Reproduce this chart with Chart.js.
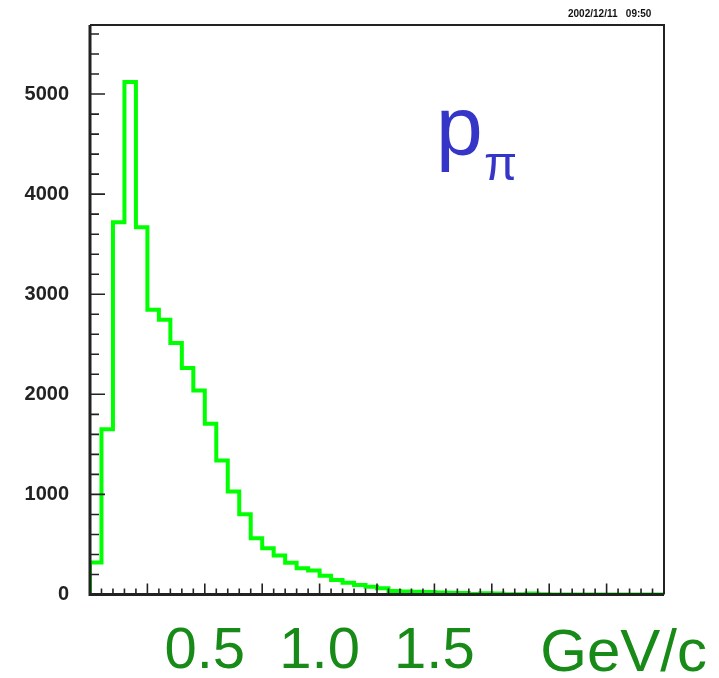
<!DOCTYPE html>
<html>
<head>
<meta charset="utf-8">
<script src="https://cdn.jsdelivr.net/npm/chart.js@4"></script>
<style>
  html, body { margin: 0; padding: 0; background: #fff; }
  #wrap { width: 719px; height: 678px; }
</style>
</head>
<body>
<div id="wrap"><canvas id="c" width="719" height="678"></canvas></div>
<script>
// histogram of pion momentum, 50 bins of 0.05 GeV/c
var xMin = 0;
var xMax = 2.5;
var binWidth = 0.05;
var counts = [320, 1650, 3720, 5120, 3670, 2845, 2745, 2512, 2262, 2038,
              1705, 1338, 1028, 802, 562, 462, 390, 318, 262, 240,
              188, 145, 118, 95, 78, 62, 35, 30, 28, 25,
              20, 18, 15, 5, 12, 10, 3, 2, 10, 2,
              0, 0, 0, 0, 0, 0, 0, 0, 0, 0];
var yMax = 5690;
var yTickLabels = ['0', '1000', '2000', '3000', '4000', '5000'];
var xTickLabels = ['0.5', '1.0', '1.5'];
var xUnit = 'GeV/c';
var dateStamp = '2002/12/11   09:50';

// outline points: start from zero at the first edge, one point per bin left edge, close at the end
var points = [{x: xMin, y: 0}];
counts.forEach(function(c, i) {
    points.push({x: xMin + i * binWidth, y: c});
});
points.push({x: xMax, y: 0});

var frameAndTicks = {
    id: 'frameAndTicks',
    afterDatasetsDraw: function(chart) {
        var ctx = chart.ctx;
        var a = chart.chartArea;
        var xs = chart.scales.x, ys = chart.scales.y;
        ctx.save();
        ctx.strokeStyle = '#222';
        ctx.lineWidth = 1.6;
        ctx.beginPath();
        // x divisions: minor every 0.05, major every 0.25
        for (var i = 1; i < 50; i++) {
            var px = xs.getPixelForValue(i * 0.05);
            var len = (i % 5 === 0) ? 11 : 6;
            ctx.moveTo(px, a.bottom);
            ctx.lineTo(px, a.bottom - len);
        }
        // y divisions: minor every 200, major every 1000
        for (var j = 1; j * 200 < yMax; j++) {
            var py = ys.getPixelForValue(j * 200);
            var l = (j % 5 === 0) ? 15 : 9;
            ctx.moveTo(a.left, py);
            ctx.lineTo(a.left + l, py);
        }
        ctx.stroke();

        // frame
        ctx.lineWidth = 3;
        ctx.beginPath();
        ctx.moveTo(a.left, a.top);
        ctx.lineTo(a.left, a.bottom);
        ctx.lineTo(a.right, a.bottom);
        ctx.stroke();
        ctx.lineWidth = 2;
        ctx.beginPath();
        ctx.moveTo(a.left, a.top);
        ctx.lineTo(a.right, a.top);
        ctx.lineTo(a.right, a.bottom);
        ctx.stroke();
        ctx.restore();
    },
    afterDraw: function(chart) {
        var ctx = chart.ctx;
        ctx.save();
        // title p_pi
        ctx.fillStyle = '#3535c8';
        ctx.textBaseline = 'alphabetic';
        ctx.textAlign = 'left';
        ctx.font = '84px "Liberation Sans", Arial, sans-serif';
        ctx.fillText('p', 436, 155);
        ctx.font = '48px "Liberation Sans", Arial, sans-serif';
        ctx.fillText('\u03c0', 484, 180);

        // unit
        ctx.fillStyle = '#178a17';
        ctx.textAlign = 'right';
        ctx.font = '60px "Liberation Sans", Arial, sans-serif';
        ctx.fillText(xUnit, 707, 671);

        // date stamp
        ctx.fillStyle = '#111';
        ctx.textAlign = 'left';
        ctx.font = 'bold 10px "Liberation Sans", Arial, sans-serif';
        ctx.fillText(dateStamp, 568, 17);
        ctx.restore();
    }
};

var ctx = document.getElementById('c').getContext('2d');
var chart = new Chart(ctx, {
    type: 'line',
    data: {
        datasets: [{
            data: points,
            stepped: true,
            borderColor: '#00ff00',
            borderWidth: 4,
            pointRadius: 0,
            fill: false,
            clip: 0
        }]
    },
    options: {
        responsive: false,
        animation: false,
        layout: { padding: { left: 0, right: 55, top: 25, bottom: 0 } },
        plugins: { legend: { display: false }, tooltip: { enabled: false } },
        scales: {
            x: {
                type: 'linear',
                min: xMin,
                max: xMax,
                grid: { display: false, drawTicks: false },
                border: { display: false },
                afterBuildTicks: function(scale) {
                    scale.ticks = xTickLabels.map(function(t) { return {value: parseFloat(t)}; });
                },
                afterFit: function(scale) {
                    scale.height = 83.5;
                    scale.paddingLeft = 0;
                    scale.paddingRight = 0;
                },
                ticks: {
                    autoSkip: false,
                    maxRotation: 0,
                    padding: 23,
                    color: '#178a17',
                    font: { family: '"Liberation Sans", Arial, sans-serif', size: 58 },
                    callback: function(v, i) { return xTickLabels[i]; }
                }
            },
            y: {
                type: 'linear',
                min: 0,
                max: yMax,
                grid: { display: false, drawTicks: false },
                border: { display: false },
                afterBuildTicks: function(scale) {
                    scale.ticks = yTickLabels.map(function(t) { return {value: parseFloat(t)}; });
                },
                afterFit: function(scale) {
                    scale.width = 90;
                    scale.paddingTop = 0;
                    scale.paddingBottom = 0;
                },
                ticks: {
                    autoSkip: false,
                    padding: 21,
                    color: '#222',
                    font: { family: '"Liberation Sans", Arial, sans-serif', size: 20, weight: 'bold' },
                    callback: function(v, i) { return yTickLabels[i]; }
                }
            }
        }
    },
    plugins: [frameAndTicks]
});
</script>
</body>
</html>
